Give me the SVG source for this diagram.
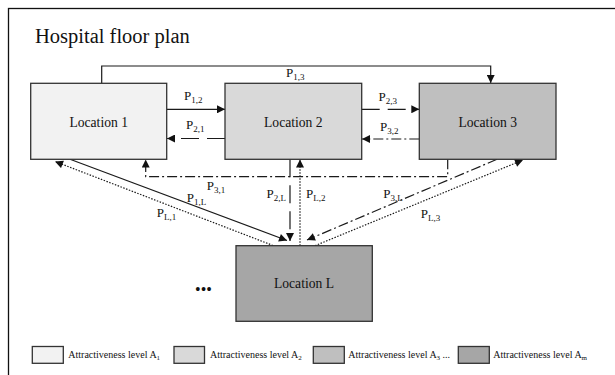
<svg xmlns="http://www.w3.org/2000/svg" width="615" height="375" viewBox="0 0 615 375">
<style>
text{font-family:"Liberation Serif","Times New Roman",serif;fill:#111}
.title{font-size:20.5px}
.loc{font-size:13.6px;text-anchor:middle}
.lbl{font-size:13px}
.sub{font-size:9px}
.leg{font-size:10px}
.lsub{font-size:7px}
.box{stroke:#333;stroke-width:1.3}
.ln{fill:none;stroke:#1a1a1a;stroke-width:1.2}
.dash{stroke-dasharray:18 8}
.dd{stroke-dasharray:10 3 2 3}
.dot{stroke-dasharray:1.5 1.5}
</style>
<defs>
<marker id="ah" viewBox="0 0 10 10" refX="10" refY="5" markerWidth="11" markerHeight="8" markerUnits="userSpaceOnUse" orient="auto"><path d="M0,0 L10,5 L0,10 z" fill="#111"/></marker>
</defs>
<rect x="0" y="0" width="615" height="375" fill="#fff"/>
<rect x="8.5" y="8.5" width="800" height="500" fill="none" stroke="#111" stroke-width="1.3"/>
<text class="title" x="35" y="42.7">Hospital floor plan</text>

<g id="connectors">
<path class="ln" d="M101.7,83.3 V66 H490.7 V83" marker-end="url(#ah)"/>
<path class="ln" d="M166.7,109.3 H225" marker-end="url(#ah)"/>
<path class="ln dash" d="M225,138.5 H167" marker-end="url(#ah)"/>
<path class="ln dash" d="M361.7,109.3 H419.3" marker-end="url(#ah)"/>
<path class="ln dd" d="M419.3,139 H362" marker-end="url(#ah)"/>
<path class="ln dd" d="M447.7,159.3 V176.7 H145.7 V159.6" marker-end="url(#ah)"/>
<path class="ln dash" d="M290,159.3 V241" marker-end="url(#ah)"/>
<path class="ln dot" d="M300,245.7 V159.6" marker-end="url(#ah)"/>
<path class="ln" d="M70,159.3 L287,240.5" marker-end="url(#ah)"/>
<path class="ln dot" d="M273,245.5 L55,161.5" marker-end="url(#ah)"/>
<path class="ln dd" d="M497,159.3 L307,240" marker-end="url(#ah)"/>
<path class="ln dot" d="M315,245.7 L523,160" marker-end="url(#ah)"/>
</g>

<g id="labels">
<text class="lbl" x="286" y="77">P<tspan class="sub" dy="3">1,3</tspan></text>
<text class="lbl" x="184" y="100">P<tspan class="sub" dy="3">1,2</tspan></text>
<text class="lbl" x="186" y="128.5">P<tspan class="sub" dy="3">2,1</tspan></text>
<text class="lbl" x="378.5" y="101">P<tspan class="sub" dy="3">2,3</tspan></text>
<text class="lbl" x="380" y="130.5">P<tspan class="sub" dy="3">3,2</tspan></text>
<text class="lbl" x="206.7" y="190">P<tspan class="sub" dy="3">3,1</tspan></text>
<text class="lbl" x="186.7" y="201.7">P<tspan class="sub" dy="3">1,L</tspan></text>
<text class="lbl" x="156.7" y="217.3">P<tspan class="sub" dy="3">L,1</tspan></text>
<text class="lbl" x="266.5" y="198.3">P<tspan class="sub" dy="3">2,L</tspan></text>
<text class="lbl" x="306" y="198.3">P<tspan class="sub" dy="3">L,2</tspan></text>
<text class="lbl" x="383.3" y="198.3">P<tspan class="sub" dy="3">3,L</tspan></text>
<text class="lbl" x="420.7" y="218.3">P<tspan class="sub" dy="3">L,3</tspan></text>
</g>

<g id="loc1">
<rect class="box" x="30.7" y="83.3" width="136" height="76" fill="#f2f2f2"/>
<text class="loc" x="98.7" y="126.5">Location 1</text>
</g>
<g id="loc2">
<rect class="box" x="225" y="83.3" width="136.7" height="76" fill="#d9d9d9"/>
<text class="loc" x="293.3" y="126.5">Location 2</text>
</g>
<g id="loc3">
<rect class="box" x="419.3" y="83.3" width="136.7" height="76" fill="#bfbfbf"/>
<text class="loc" x="487.7" y="126.5">Location 3</text>
</g>
<g id="locL">
<rect class="box" x="236" y="245.7" width="136.3" height="75.6" fill="#a6a6a6"/>
<text class="loc" x="304" y="287.7">Location L</text>
</g>
<text x="203.5" y="294.5" style="font-size:16px;text-anchor:middle">•••</text>

<g id="legend">
<rect class="box" x="32.3" y="346.5" width="31" height="16.8" fill="#f2f2f2"/>
<text class="leg" x="68.3" y="357.5">Attractiveness level A<tspan class="lsub" dy="2">1</tspan></text>
<rect class="box" x="174" y="346.5" width="30.5" height="16.8" fill="#d9d9d9"/>
<text class="leg" x="210" y="357.5">Attractiveness level A<tspan class="lsub" dy="2">2</tspan></text>
<rect class="box" x="313.3" y="346.5" width="31" height="16.8" fill="#bfbfbf"/>
<text class="leg" x="348.3" y="357.5">Attractiveness level A<tspan class="lsub" dy="2">3</tspan><tspan dy="-2"> ...</tspan></text>
<rect class="box" x="458.3" y="346.5" width="31" height="16.8" fill="#a6a6a6"/>
<text class="leg" x="493.3" y="357.5">Attractiveness level A<tspan class="lsub" dy="2">m</tspan></text>
</g>
</svg>
